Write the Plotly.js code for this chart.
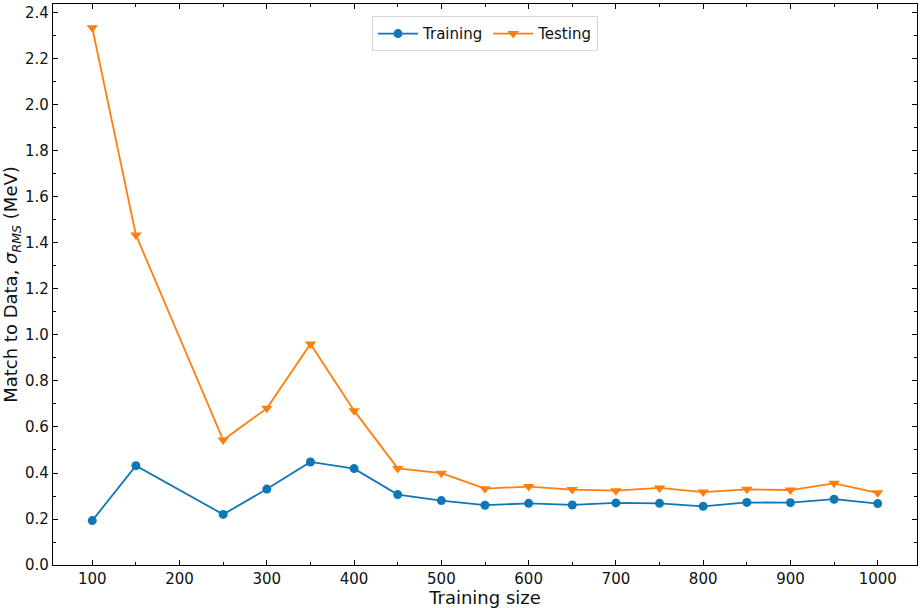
<!DOCTYPE html>
<html>
<head>
<meta charset="utf-8">
<script src="https://cdn.plot.ly/plotly-3.0.1.min.js"></script>
<style>
  body { margin: 0; background: #fff; }
  #chart { width: 920px; height: 608px; }
</style>
</head>
<body>
<div id="chart"></div>
<script>
  // values
  var trainingSize = [100, 150, 250, 300, 350, 400, 450, 500, 550, 600, 650, 700, 750, 800, 850, 900, 950, 1000];
  var trainingRms = [0.193, 0.432, 0.220, 0.330, 0.448, 0.419, 0.306, 0.280, 0.260, 0.268, 0.261, 0.270, 0.268, 0.255, 0.272, 0.271, 0.286, 0.267];
  var testingRms = [2.336, 1.435, 0.543, 0.681, 0.961, 0.671, 0.420, 0.399, 0.332, 0.341, 0.328, 0.323, 0.335, 0.317, 0.329, 0.326, 0.355, 0.314];

  var blue = '#0f77b6';
  var orange = '#ff7f0e';
  var font = 'DejaVu Sans, sans-serif';

  var trace0 = {
    x: trainingSize,
    y: trainingRms,
    name: 'Training',
    type: 'scatter',
    mode: 'lines+markers',
    line: {color: blue, width: 1.8},
    marker: {color: blue, symbol: 'circle', size: 9}
  };

  var trace1 = {
    x: trainingSize,
    y: testingRms,
    name: 'Testing',
    type: 'scatter',
    mode: 'lines+markers',
    line: {color: orange, width: 1.8},
    marker: {color: orange, symbol: 'triangle-down', size: 10}
  };

  var axisBase = {
    showgrid: false,
    zeroline: false,
    showline: true,
    linecolor: '#000',
    linewidth: 1.2,
    mirror: 'ticks',
    ticks: 'inside',
    ticklen: 5,
    tickwidth: 1,
    tickcolor: '#000',
    tickfont: {family: font, size: 15, color: '#111'}
  };

  var layout = {
    width: 920,
    height: 608,
    margin: {l: 53, r: 3, t: 4, b: 43},
    paper_bgcolor: '#fff',
    plot_bgcolor: '#fff',
    font: {family: font, color: '#111'},
    showlegend: true,
    legend: {
      orientation: 'h',
      x: 0.5,
      xanchor: 'center',
      y: 0.978,
      yanchor: 'top',
      bordercolor: '#d6d6d6',
      borderwidth: 1,
      bgcolor: 'rgba(255,255,255,0.8)',
      font: {family: font, size: 15, color: '#111'},
      itemwidth: 40
    },
    xaxis: Object.assign({}, axisBase, {
      range: [55, 1045],
      tickmode: 'linear',
      tick0: 100,
      dtick: 100,
      minor: {ticks: 'inside', dtick: 50, tick0: 0, ticklen: 3, tickcolor: '#000', tickwidth: 1},
      title: {text: 'Training size', font: {family: font, size: 18, color: '#111'}, standoff: 6}
    }),
    yaxis: Object.assign({}, axisBase, {
      range: [0, 2.439],
      tickmode: 'linear',
      tick0: 0,
      dtick: 0.2,
      tickformat: '.1f',
      minor: {ticks: 'inside', dtick: 0.1, tick0: 0, ticklen: 3, tickcolor: '#000', tickwidth: 1},
      title: {text: 'Match to Data, <i>σ</i><sub><i>RMS</i></sub> (MeV)', font: {family: font, size: 18, color: '#111'}, standoff: 8}
    })
  };

  Plotly.newPlot('chart', [trace0, trace1], layout, {displayModeBar: false, staticPlot: true});
</script>
</body>
</html>
